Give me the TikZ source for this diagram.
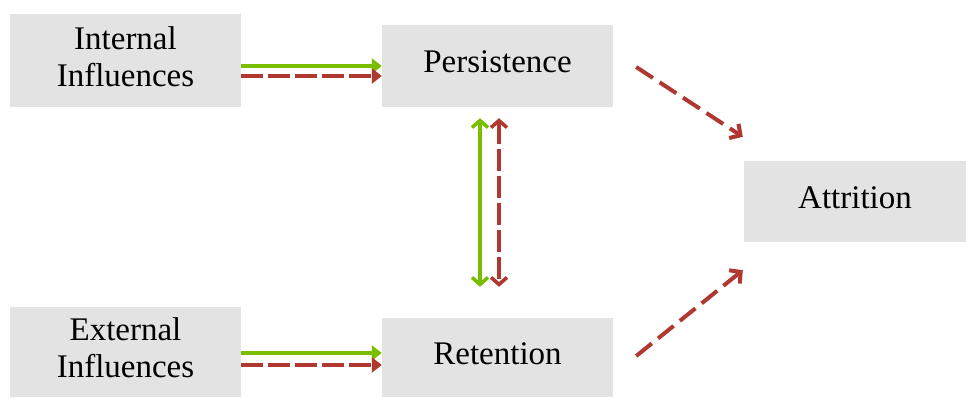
\documentclass[tikz,border=0pt]{standalone}
\usepackage{fontspec}
\setmainfont{Liberation Serif}
\usetikzlibrary{arrows.meta,positioning,calc}
\definecolor{boxgray}{RGB}{227,227,227}
\definecolor{posgreen}{RGB}{122,190,0}
\definecolor{negred}{RGB}{176,56,48}

\begin{document}
\begin{tikzpicture}[
  x=1pt,y=1pt,
  font=\fontsize{33}{37}\selectfont,
  factor/.style={fill=boxgray,align=center,inner sep=0pt,text depth=8pt,
                 minimum width=231pt},
  posarr/.style={posgreen,line width=4pt,-{Triangle[length=10pt,width=15pt]}},
  negarr/.style={negred,line width=4pt,dash pattern=on 22pt off 5pt,
              -{Triangle[length=10pt,width=15pt]}},
  posboth/.style={posgreen,line width=3.6pt,
                  {Straight Barb[length=7pt,width=16pt]}-{Straight Barb[length=7pt,width=16pt]}},
  negboth/.style={negred,line width=3.6pt,dash pattern=on 22pt off 5pt,
                  {Straight Barb[length=7pt,width=16pt]}-{Straight Barb[length=7pt,width=16pt]}},
  negdiag/.style={negred,line width=4pt,dash pattern=on 20pt off 8pt,
                  -{Straight Barb[length=8pt,width=17pt]}},
]
\useasboundingbox (0,0) rectangle (966,397);
% factors
\node[factor,minimum height=93pt] (int) at (125.5,336.5) {Internal\\Influences};
\node[factor,minimum height=90pt] (ext) at (125.5,45) {External\\Influences};
\node[factor,minimum height=82pt] (pers) at (497.5,331) {Persistence};
\node[factor,minimum height=79pt] (ret) at (497.5,39.5) {Retention};
\node[factor,minimum width=222pt,minimum height=81pt] (att) at (855,195.5) {Attrition};
% influences
\draw[posarr] ([yshift=-5.5pt]int.east) -- ([yshift=-5.5pt]int.east -| pers.west);
\draw[negarr] ([yshift=-15.5pt]int.east) -- ([yshift=-15.5pt]int.east -| pers.west);
\draw[posarr] ([yshift=-1pt]ext.east) -- ([yshift=-1pt]ext.east -| ret.west);
\draw[negarr] ([yshift=-13pt]ext.east) -- ([yshift=-13pt]ext.east -| ret.west);
% persistence <-> retention
\draw[posboth] ([xshift=-17.5pt,yshift=-11pt]pers.south) -- ([xshift=-17.5pt,yshift=31pt]ret.north);
\draw[negboth] ([xshift=1.5pt,yshift=-11pt]pers.south) -- ([xshift=1.5pt,yshift=31pt]ret.north);
% towards attrition
\coordinate (atttop) at ($(att.north west)+(-1,24)$);
\coordinate (attbot) at ($(att.south west)+(-1,-28)$);
\draw[negdiag] ($(pers.east)+(23,-1)$) -- (atttop);
\draw[negdiag] ($(ret.east)+(23,1.5)$) -- (attbot);
\end{tikzpicture}
\end{document}
